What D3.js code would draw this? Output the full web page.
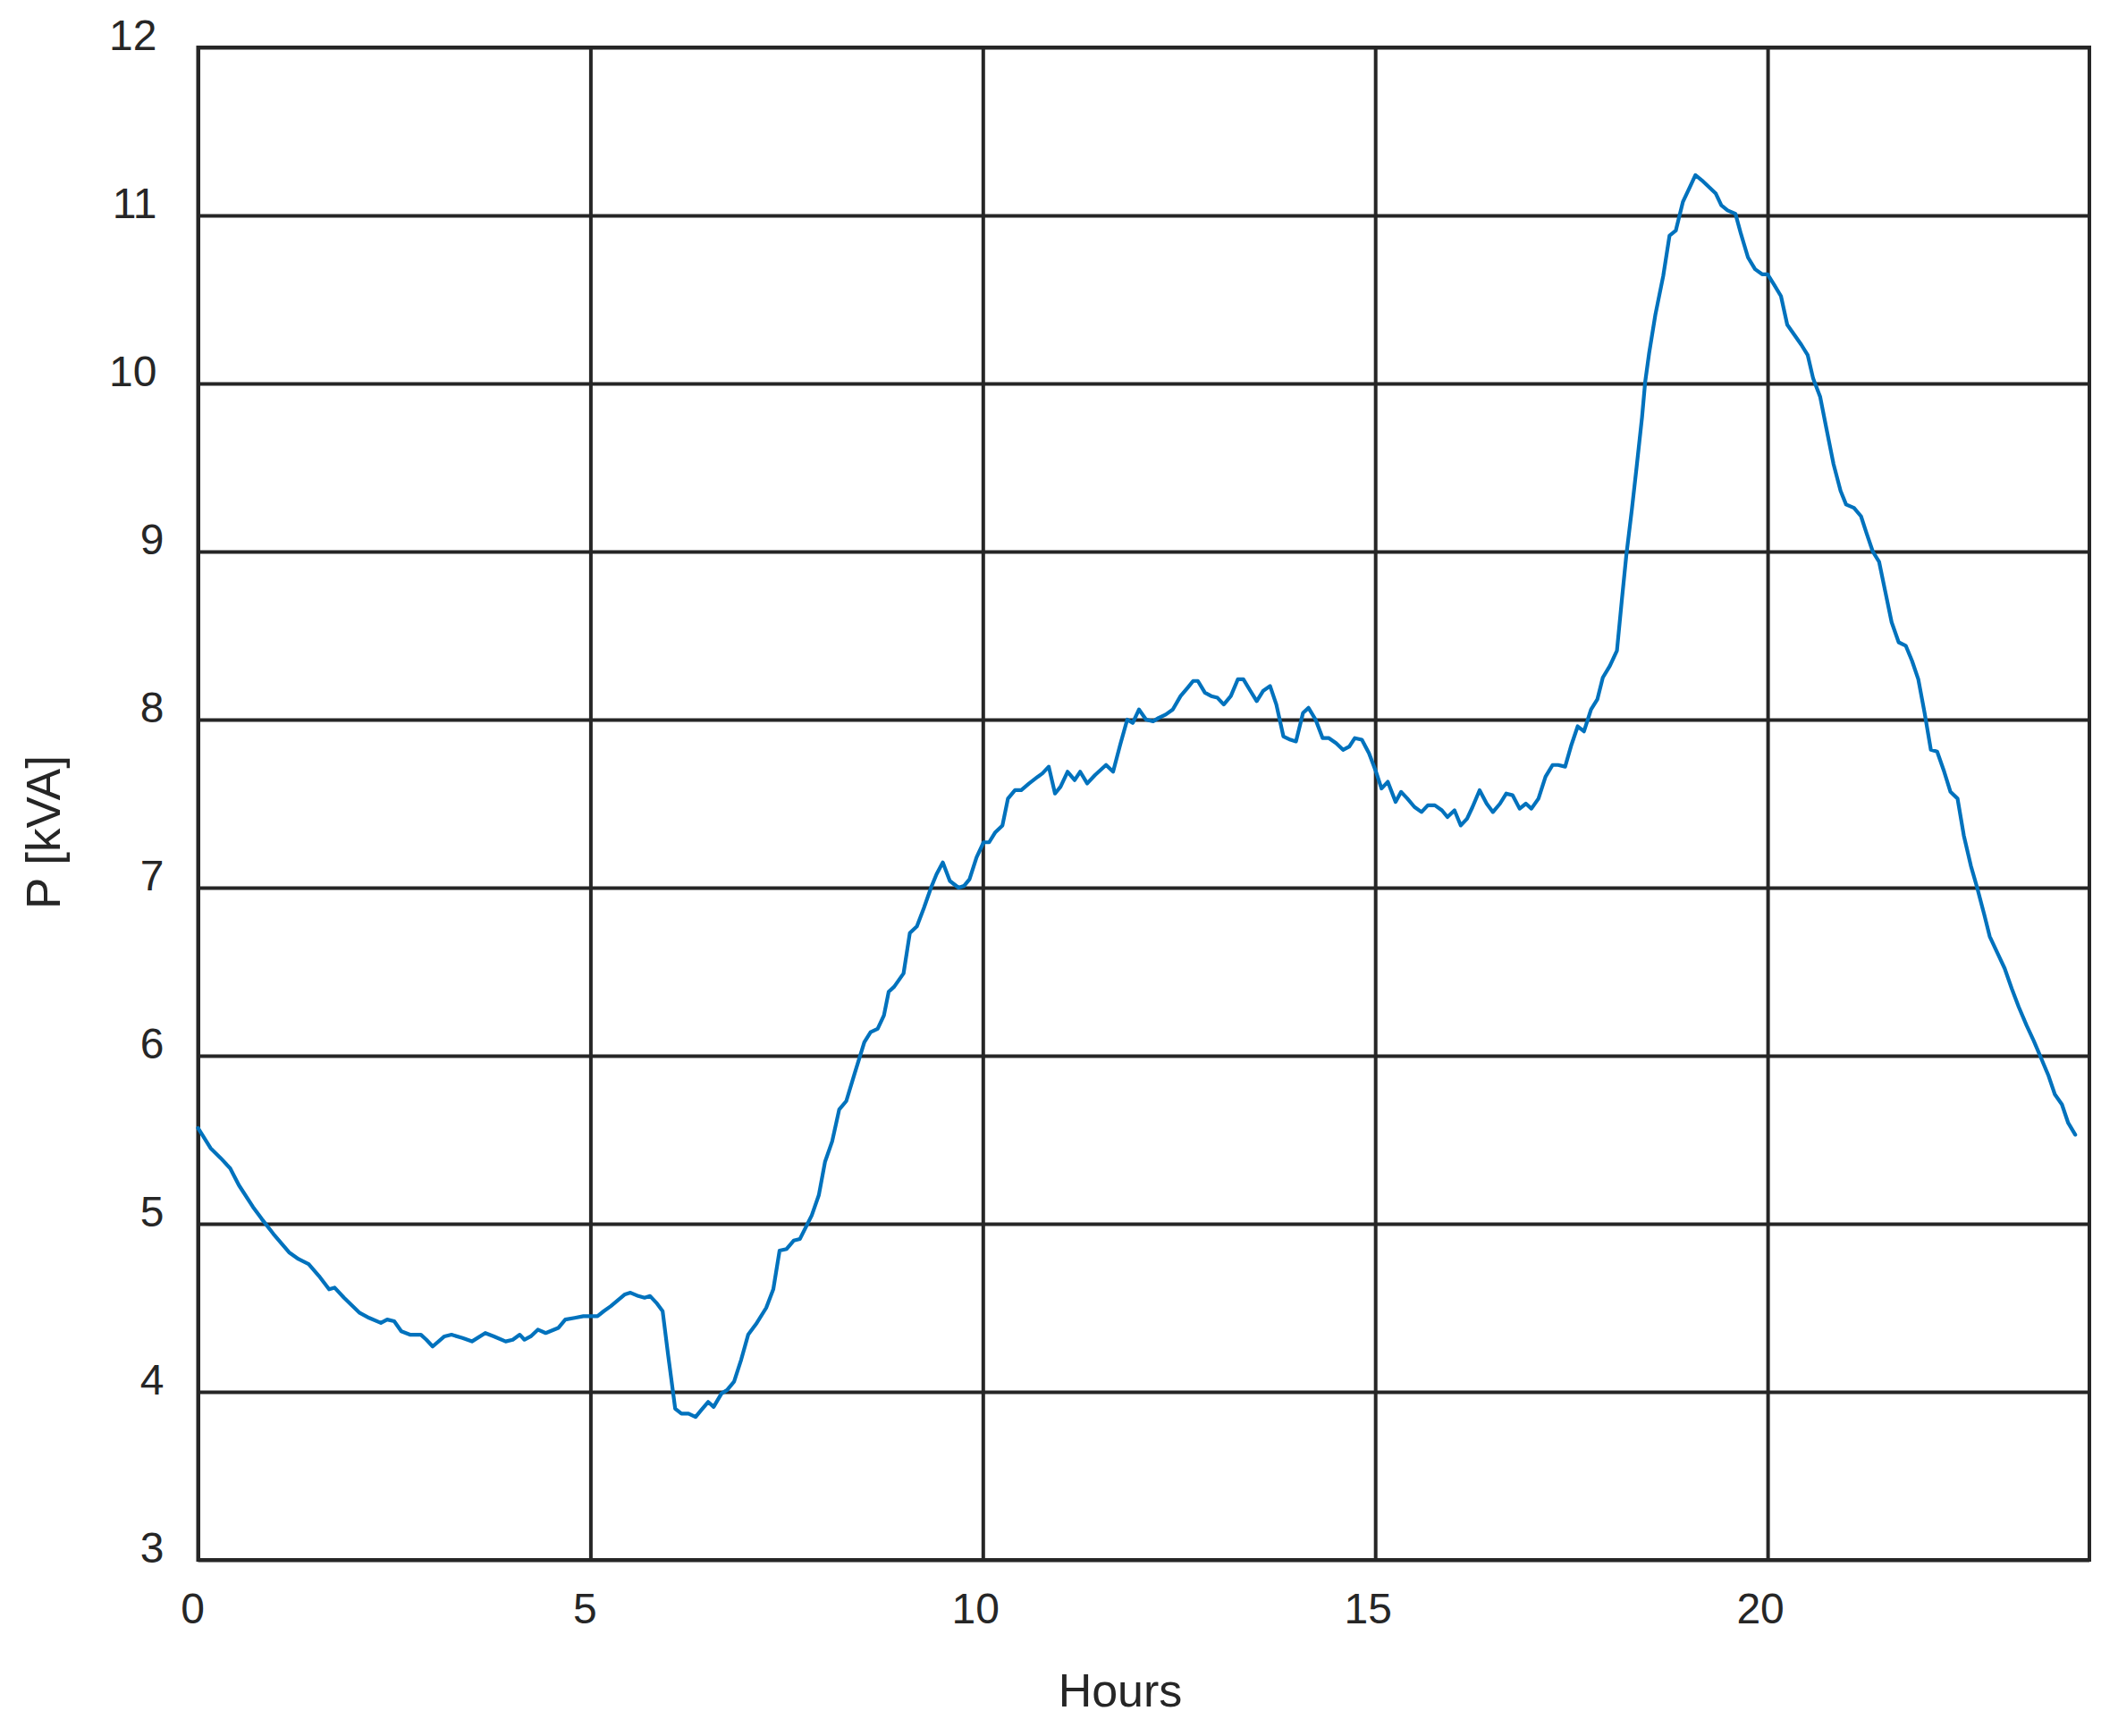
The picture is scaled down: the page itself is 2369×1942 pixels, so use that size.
<!DOCTYPE html>
<html>
<head>
<meta charset="utf-8">
<script src="https://cdn.jsdelivr.net/npm/d3@7"></script>
<style>
  html, body { margin: 0; padding: 0; background: #ffffff; }
  svg { display: block; }
</style>
</head>
<body>
<svg id="chart" width="2369" height="1942"></svg>
<script>
// ---- data ----
const hours = [
  0.00,0.16,0.29,0.41,0.52,0.70,0.81,0.96,1.05,1.16,1.28,1.41,1.54,1.67,1.74,1.86,2.06,2.18,2.33,2.41,
  2.50,2.59,2.70,2.84,2.91,2.99,3.14,3.23,3.37,3.49,3.66,3.77,3.92,4.01,4.10,4.16,4.24,4.33,4.43,4.59,
  4.68,4.80,4.91,5.00,5.09,5.17,5.26,5.44,5.51,5.61,5.69,5.76,5.84,5.92,5.99,6.08,6.16,6.25,6.34,6.41,
  6.50,6.57,6.67,6.74,6.83,6.92,7.01,7.12,7.24,7.33,7.41,7.50,7.59,7.67,7.82,7.91,7.99,8.08,8.17,8.26,
  8.37,8.49,8.57,8.66,8.74,8.80,
  8.87,8.99,9.07,9.16,9.25,9.34,9.41,9.49,9.58,9.69,9.76,9.83,9.92,10.01,10.08,10.16,10.25,10.32,10.41,10.49,
  10.59,10.70,10.76,10.84,10.92,10.99,11.08,11.17,11.24,11.33,11.43,11.57,11.66,11.75,11.84,11.91,11.99,12.08,12.17,12.24,
  12.33,12.42,12.52,12.61,12.68,12.74,12.83,12.91,12.99,13.07,13.16,13.25,13.32,13.41,13.49,13.57,13.66,13.74,13.83,13.92,
  13.99,14.08,14.15,14.24,14.33,14.41,14.50,14.59,14.67,14.74,14.83,14.92,15.01,15.08,15.16,15.26,15.33,15.41,15.50,15.59,
  15.67,15.76,15.85,15.92,16.01,16.09,16.17,16.24,16.33,16.42,16.50,16.59,16.67,16.75,16.84,16.92,16.99,17.08,17.17,17.26,
  17.33,17.42,17.50,17.58,17.66,17.75,17.83,17.90,17.99,
  18.08,18.14,18.20,18.27,18.33,18.40,18.44,18.49,18.57,18.67,18.75,18.83,18.92,19.01,19.08,19.16,19.25,19.34,19.41,19.49,
  19.59,19.66,19.75,19.84,19.93,20.00,20.08,20.17,20.25,20.34,20.43,20.51,20.58,20.67,20.75,20.84,20.93,21.00,21.10,21.19,
  21.26,21.34,21.42,21.50,21.58,21.67,21.76,21.84,21.92,22.00,22.08,22.16,22.25,22.33,22.42,22.50,22.59,22.67,22.76,22.83,
  22.93,23.02,23.11,23.20,23.30,23.39,23.49,23.58,23.66,23.75,23.83,23.92
];
const power = [
  5.57,5.45,5.39,5.33,5.23,5.10,5.03,4.94,4.89,4.83,4.79,4.76,4.69,4.61,4.62,4.56,4.47,4.44,4.41,4.43,
  4.42,4.36,4.34,4.34,4.31,4.27,4.33,4.34,4.32,4.30,4.35,4.33,4.30,4.31,4.34,4.31,4.33,4.37,4.35,4.38,
  4.43,4.44,4.45,4.45,4.45,4.48,4.51,4.58,4.59,4.57,4.56,4.57,4.53,4.48,4.22,3.90,3.87,3.87,3.85,3.89,
  3.94,3.91,3.99,4.01,4.06,4.19,4.34,4.41,4.50,4.61,4.84,4.85,4.90,4.91,5.05,5.17,5.37,5.49,5.68,5.73,
  5.90,6.08,6.14,6.16,6.24,6.38,
  6.41,6.49,6.73,6.77,6.88,7.00,7.08,7.15,7.04,7.00,7.01,7.05,7.18,7.27,7.27,7.33,7.37,7.53,7.58,7.58,
  7.62,7.66,7.68,7.72,7.56,7.60,7.69,7.64,7.69,7.62,7.67,7.73,7.69,7.85,8.00,7.98,8.06,8.00,7.99,8.01,
  8.03,8.06,8.14,8.19,8.23,8.23,8.16,8.14,8.13,8.09,8.14,8.24,8.24,8.17,8.11,8.17,8.20,8.09,7.90,7.88,
  7.87,8.04,8.07,8.00,7.89,7.89,7.86,7.82,7.84,7.89,7.88,7.80,7.69,7.59,7.63,7.51,7.57,7.53,7.48,7.45,
  7.49,7.49,7.46,7.42,7.46,7.37,7.41,7.48,7.58,7.50,7.45,7.50,7.56,7.55,7.47,7.50,7.47,7.53,7.66,7.73,
  7.73,7.72,7.85,7.96,7.93,8.06,8.12,8.25,8.32,
  8.41,8.70,8.98,9.25,9.50,9.80,10.01,10.18,10.41,10.64,10.88,10.91,11.08,11.17,11.24,11.21,11.17,11.13,11.06,11.03,
  11.01,10.89,10.75,10.68,10.65,10.65,10.59,10.52,10.35,10.29,10.23,10.17,10.03,9.92,9.73,9.52,9.36,9.28,9.26,9.21,
  9.11,9.00,8.94,8.76,8.58,8.46,8.44,8.35,8.24,8.04,7.82,7.81,7.69,7.57,7.53,7.31,7.13,7.00,6.84,6.71,
  6.61,6.52,6.40,6.29,6.18,6.09,5.98,5.88,5.77,5.71,5.60,5.53
];
const xTicks = [0, 5, 10, 15, 20];
const yTicks = [3, 4, 5, 6, 7, 8, 9, 10, 11, 12];
const xDomain = [0, 24.1];
const yDomain = [3, 12];
const xTitle = "Hours";
const yTitle = "P [kVA]";

// ---- layout ----
const margin = { left: 221.5, top: 53, right: 2337, bottom: 1745 };
const ink = "#262626";
const lineColor = "#0072BD";
const font = "'Liberation Sans', Arial, Helvetica, sans-serif";

const svg = d3.select("#chart");
svg.append("rect").attr("width", 2369).attr("height", 1942).attr("fill", "#ffffff");

const x = d3.scaleLinear().domain(xDomain).range([margin.left, margin.right]);
const y = d3.scaleLinear().domain(yDomain).range([margin.bottom, margin.top]);
const plotW = margin.right - margin.left;
const plotH = margin.bottom - margin.top;

// y axis with gridlines
const gy = svg.append("g")
  .attr("transform", `translate(${margin.left},0)`)
  .call(d3.axisLeft(y).tickValues(yTicks).tickSize(-plotW).tickFormat(d3.format("d")));
gy.select(".domain").remove();
gy.selectAll(".tick line").attr("stroke", ink).attr("stroke-width", 4);
gy.selectAll(".tick text")
  .attr("fill", ink)
  .attr("font-family", font)
  .attr("font-size", 48)
  .attr("text-anchor", "end")
  .attr("x", d => String(d).length > 1 ? -46 : -38)
  .attr("y", 2.5)
  .attr("dy", null);

// x axis with gridlines
const gx = svg.append("g")
  .attr("transform", `translate(0,${margin.bottom})`)
  .call(d3.axisBottom(x).tickValues(xTicks).tickSize(-plotH).tickFormat(d3.format("d")));
gx.select(".domain").remove();
gx.selectAll(".tick line").attr("stroke", ink).attr("stroke-width", 4);
gx.selectAll(".tick text")
  .attr("fill", ink)
  .attr("font-family", font)
  .attr("font-size", 48)
  .attr("text-anchor", "middle")
  .attr("x", d => String(d).length > 1 ? -8.5 : -6.5)
  .attr("y", 71)
  .attr("dy", null);

// plot box
svg.append("rect")
  .attr("x", margin.left).attr("y", margin.top)
  .attr("width", plotW).attr("height", plotH)
  .attr("fill", "none").attr("stroke", ink).attr("stroke-width", 4);

// data line
const line = d3.line()
  .x((d, i) => x(hours[i]))
  .y(d => y(d));
svg.append("path")
  .datum(power)
  .attr("d", line)
  .attr("fill", "none")
  .attr("stroke", lineColor)
  .attr("stroke-width", 4.2)
  .attr("stroke-linejoin", "round")
  .attr("stroke-linecap", "round");

// axis titles
svg.append("text")
  .attr("x", 1253).attr("y", 1909)
  .attr("text-anchor", "middle")
  .attr("font-family", font).attr("font-size", 52)
  .attr("fill", ink)
  .text(xTitle);

svg.append("text")
  .attr("transform", "translate(67,931) rotate(-90)")
  .attr("text-anchor", "middle")
  .attr("font-family", font).attr("font-size", 53)
  .attr("fill", ink)
  .text(yTitle);
</script>
</body>
</html>
